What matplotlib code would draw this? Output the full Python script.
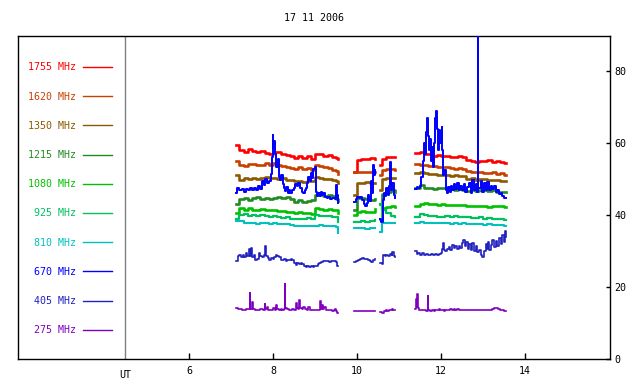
import numpy as np
import matplotlib
matplotlib.use("Agg")
import matplotlib.pyplot as plt

nan = np.nan

title = "17 11 2006"
freq_labels = ["1755 MHz", "1620 MHz", "1350 MHz", "1215 MHz", "1080 MHz",
               "925 MHz", "810 MHz", "670 MHz", "405 MHz", "275 MHz"]
colors = ["#ff0000", "#c84000", "#8c5a00", "#228b22", "#00c000",
          "#00c060", "#00c0c0", "#0000ff", "#2020c0", "#8000c0"]
x_ticks = [6, 8, 10, 12, 14]
y_ticks = [0, 20, 40, 60, 80]
ut_position = 4.48

# common time base (hours UT) for the smoother channels, gaps as nan
t_main = [7.12, 7.2, 7.3, 7.4, 7.5, 7.6, 7.7, 7.8, 7.9, 8.0, 8.1, 8.2, 8.3, 8.4, 8.5,
          8.6, 8.7, 8.8, 8.9, 9.0, 9.1, 9.2, 9.3, 9.4, 9.5, 9.55, nan,
          9.93, 10.0, 10.1, 10.2, 10.3, 10.43, nan,
          10.55, 10.6, 10.7, 10.8, 10.9, nan,
          11.38, 11.5, 11.6, 11.7, 11.8, 11.9, 12.0, 12.1, 12.2, 12.3, 12.4, 12.5,
          12.6, 12.7, 12.8, 12.9, 13.0, 13.1, 13.2, 13.3, 13.4, 13.5, 13.55]

f1755 = [59.5, 58.0, 57.6, 58.2, 57.8, 57.5, 57.9, 57.2, 57.0, 57.4, 57.6, 57.0, 56.6, 56.3, 55.8,
         56.4, 55.9, 56.3, 55.6, 57.0, 56.8, 56.5, 56.6, 56.2, 55.8, 55.6, nan,
         52.0, 55.4, 55.6, 55.5, 55.7, 55.6, nan,
         54.0, 55.5, 56.0, 56.2, 56.0, nan,
         57.2, 57.5, 57.0, 56.8, 56.5, 56.7, 56.3, 56.5, 56.0, 56.2, 56.4, 56.1,
         55.2, 55.0, 54.8, 55.1, 54.9, 55.2, 54.8, 55.0, 54.7, 54.3, 54.3]
f1620 = [55.0, 53.9, 53.6, 54.1, 54.2, 53.8, 54.0, 54.3, 53.9, 54.3, 54.0, 53.6, 53.3, 53.0, 52.7,
         53.2, 52.8, 53.1, 52.6, 53.9, 53.5, 53.3, 53.0, 52.6, 52.2, 51.5, nan,
         51.8, 51.8, 51.9, 51.8, 51.8, 51.8, nan,
         51.0, 52.5, 52.7, 52.8, 52.6, nan,
         54.2, 54.0, 53.8, 53.6, 53.5, 53.4, 53.2, 53.3, 53.0, 52.9, 53.0, 52.9,
         52.1, 52.0, 51.8, 52.0, 51.7, 51.6, 51.8, 51.5, 51.6, 51.1, 51.1]
f1350 = [51.0, 49.8, 50.3, 50.0, 50.4, 50.1, 50.3, 50.6, 50.2, 50.4, 50.0, 50.2, 49.8, 49.6, 49.3,
         49.5, 49.2, 49.5, 49.3, 50.6, 50.3, 50.1, 49.9, 49.7, 49.5, 48.9, nan,
         45.5, 49.0, 49.0, 49.1, 49.0, 49.0, nan,
         47.0, 50.0, 50.3, 50.2, 50.2, nan,
         51.6, 51.9, 51.6, 51.5, 51.3, 51.2, 51.1, 51.0, 50.9, 51.0, 50.8, 50.8,
         50.0, 50.2, 49.8, 49.9, 50.0, 49.7, 49.6, 49.6, 49.5, 49.5, 49.5]
f1215 = [43.0, 44.3, 44.6, 44.2, 44.6, 44.9, 44.5, 44.7, 44.4, 44.8, 45.0, 44.6, 44.9, 44.3, 43.7,
         44.1, 43.6, 43.9, 44.2, 45.6, 45.8, 45.3, 45.5, 45.2, 44.4, 44.0, nan,
         41.5, 44.6, 44.8, 44.4, 44.2, 44.3, nan,
         43.0, 45.8, 46.5, 46.8, 46.3, nan,
         47.4, 48.2, 47.6, 47.6, 47.3, 47.5, 47.4, 47.6, 47.1, 47.0, 47.2, 46.9,
         46.7, 46.9, 46.6, 46.8, 46.9, 46.7, 46.8, 46.5, 46.3, 46.4, 46.4]
f1080 = [40.5, 41.8, 41.5, 41.9, 41.5, 41.4, 41.7, 41.3, 41.5, 41.4, 41.2, 41.0, 40.9, 40.7, 40.6,
         40.8, 40.5, 40.6, 40.4, 41.8, 41.6, 41.5, 41.6, 41.4, 41.3, 40.5, nan,
         40.0, 40.9, 41.0, 40.8, 40.9, 41.6, nan,
         39.0, 42.0, 42.3, 42.4, 42.2, nan,
         42.6, 43.1, 43.2, 43.0, 43.1, 42.9, 43.1, 42.8, 42.7, 42.9, 42.8, 42.9,
         42.6, 42.4, 42.6, 42.5, 42.5, 42.3, 42.4, 42.6, 42.4, 42.3, 42.3]
f925 = [39.0, 40.0, 40.3, 39.8, 40.0, 39.7, 39.9, 39.6, 39.5, 39.6, 39.4, 39.2, 39.3, 38.9, 38.8,
        39.0, 38.8, 39.1, 38.9, 40.0, 39.8, 39.6, 39.7, 39.4, 39.4, 38.0, nan,
        38.0, 38.1, 38.2, 38.0, 38.2, 38.6, nan,
        43.0, 41.5, 40.5, 39.8, 39.5, nan,
        39.3, 40.2, 40.0, 39.7, 39.8, 39.5, 39.5, 39.6, 39.4, 39.6, 39.3, 39.3,
        39.5, 39.2, 39.1, 39.3, 39.0, 39.2, 38.9, 38.8, 38.9, 38.6, 38.6]
f810 = [38.4, 38.2, 37.9, 37.7, 37.8, 37.6, 37.8, 37.7, 37.6, 37.7, 37.6, 37.5, 37.4, 37.2, 36.9,
        36.8, 37.0, 36.9, 37.0, 37.0, 37.1, 36.9, 36.8, 36.8, 36.6, 35.0, nan,
        36.3, 36.4, 36.3, 36.2, 36.3, 36.4, nan,
        35.4, 37.9, 37.9, 37.8, 37.9, nan,
        37.9, 38.1, 37.9, 37.8, 37.8, 37.7, 37.7, 37.7, 37.6, 37.7, 37.6, 37.8,
        37.5, 37.4, 37.5, 37.4, 37.3, 37.4, 37.2, 37.3, 37.1, 36.9, 36.9]

t670 = [7.12, 7.15, 7.20, 7.25, 7.30, 7.35, 7.40, 7.45, 7.50, 7.55, 7.60, 7.65, 7.70, 7.74, 7.78,
        7.82, 7.86, 7.90, 7.94, 7.97, 7.99, 8.01, 8.03, 8.05, 8.08, 8.11, 8.14, 8.17, 8.20, 8.23,
        8.26, 8.29, 8.32, 8.35, 8.38, 8.41, 8.45, 8.49, 8.52, 8.56, 8.60, 8.64, 8.68, 8.71, 8.75,
        8.78, 8.81, 8.84, 8.87, 8.90, 8.93, 8.96, 8.99, 9.02, 9.05, 9.08, 9.11, 9.14, 9.17, 9.20,
        9.24, 9.28, 9.32, 9.36, 9.40, 9.44, 9.48, 9.51, 9.53, 9.55, nan,
        9.93, 9.97, 10.00, 10.04, 10.08, 10.12, 10.16, 10.20, 10.23, 10.26, 10.29, 10.32, 10.35,
        10.37, 10.39, 10.41, 10.43, nan,
        10.55, 10.58, 10.61, 10.64, 10.67, 10.70, 10.73, 10.76, 10.79, 10.81, 10.84, 10.87, 10.90, nan,
        11.38, 11.42, 11.46, 11.50, 11.53, 11.56, 11.59, 11.62, 11.65, 11.67, 11.69, 11.72, 11.74,
        11.77, 11.79, 11.81, 11.84, 11.86, 11.88, 11.90, 11.92, 11.95, 11.98, 12.01, 12.03, 12.05,
        12.08, 12.11, 12.14, 12.17, 12.20, 12.23, 12.26, 12.30, 12.34, 12.38, 12.42, 12.46, 12.50,
        12.54, 12.58, 12.62, 12.66, 12.70, 12.74, 12.78, 12.82, 12.86, 12.88, 12.885, 12.94, 12.98,
        13.02, 13.06, 13.10, 13.14, 13.18, 13.22, 13.26, 13.30, 13.34, 13.38, 13.42, 13.46, 13.50, 13.55]
f670 = [46.0, 47.5, 46.8, 47.3, 46.5, 47.2, 46.9, 47.6, 46.8, 47.4, 47.0, 48.0, 47.3, 49.5, 48.2,
        50.0, 48.8, 49.5, 51.5, 56.0, 62.2, 58.5, 60.5, 57.0, 53.4, 55.5, 50.5, 49.7, 51.0, 48.5,
        47.5, 46.6, 47.8, 46.2, 46.8, 46.0, 47.0, 47.6, 48.6, 48.0, 48.8, 47.5, 46.5, 46.0, 46.8,
        47.5, 49.0, 50.5, 49.5, 51.6, 50.2, 52.8, 53.2, 46.5, 45.2, 46.0, 45.3, 46.5, 45.5, 46.0,
        45.1, 44.8, 45.0, 44.5, 44.8, 44.6, 44.3, 48.3, 45.5, 43.3, nan,
        43.7, 44.5, 45.0, 44.6, 44.9, 44.2, 43.0, 42.6, 43.4, 45.5, 44.0, 49.5, 46.0,
        52.0, 54.0, 51.0, 52.5, nan,
        39.0, 38.0, 44.2, 46.0, 45.2, 47.5, 45.5, 48.0, 54.8, 47.0, 49.0, 45.5, 44.7, nan,
        47.3, 47.8, 47.5, 48.0, 50.6, 55.0, 60.0, 57.0, 63.0, 66.8, 62.0, 58.0, 61.0,
        55.0, 59.0, 53.4, 60.0, 67.0, 69.0, 64.0, 58.0, 63.5, 60.0, 64.5, 58.0, 51.0,
        52.5, 47.0, 46.2, 47.8, 46.5, 48.0, 47.0, 48.5, 47.2, 48.9, 46.8, 48.0, 47.0,
        48.5, 46.5, 47.8, 49.0, 46.2, 49.7, 47.0, 48.5, 46.5, 95.0, 47.5, 49.5, 46.4,
        48.8, 47.0, 49.2, 46.8, 48.0, 47.2, 48.0, 46.5, 47.0, 45.8, 46.2, 45.2, 44.8, 44.6]

t405 = [7.12, 7.16, 7.20, 7.24, 7.28, 7.32, 7.36, 7.38, 7.42, 7.44, 7.48, 7.50, 7.54, 7.58, 7.62,
        7.66, 7.70, 7.74, 7.78, 7.81, 7.83, 7.87, 7.91, 7.95, 7.99, 8.03, 8.06, 8.10, 8.14, 8.18,
        8.22, 8.26, 8.30, 8.34, 8.38, 8.42, 8.46, 8.50, 8.54, 8.58, 8.62, 8.66, 8.70, 8.74, 8.78,
        8.82, 8.86, 8.90, 8.94, 8.98, 9.02, 9.06, 9.10, 9.14, 9.18, 9.22, 9.26, 9.30, 9.34, 9.38,
        9.42, 9.46, 9.50, 9.53, 9.55, nan,
        9.93, 9.98, 10.03, 10.08, 10.12, 10.16, 10.20, 10.25, 10.30, 10.34, 10.38, 10.43, nan,
        10.55, 10.59, 10.62, 10.66, 10.70, 10.74, 10.78, 10.82, 10.84, 10.87, 10.90, nan,
        11.38, 11.42, 11.46, 11.50, 11.55, 11.60, 11.65, 11.70, 11.75, 11.80, 11.85, 11.90, 11.95,
        12.00, 12.02, 12.04, 12.06, 12.10, 12.14, 12.18, 12.22, 12.26, 12.30, 12.34, 12.38, 12.42,
        12.46, 12.50, 12.53, 12.56, 12.60, 12.63, 12.66, 12.70, 12.74, 12.78, 12.82, 12.86, 12.90,
        12.94, 12.98, 13.02, 13.06, 13.09, 13.12, 13.15, 13.18, 13.22, 13.26, 13.30, 13.34, 13.38,
        13.42, 13.46, 13.49, 13.52, 13.55]
f405 = [27.3, 28.5, 28.9, 28.3, 28.8, 28.4, 29.5, 28.5, 30.5, 28.6, 30.8, 28.4, 28.8, 27.6, 27.9,
        29.4, 28.6, 28.3, 28.8, 31.4, 28.5, 28.0, 27.6, 28.0, 27.8, 28.2, 29.0, 28.5, 28.2, 27.6,
        27.4, 27.8, 27.2, 27.4, 27.6, 27.8, 27.4, 26.6, 26.1, 26.7, 26.5, 26.7, 26.3, 25.9, 25.6,
        25.8, 25.6, 25.7, 25.6, 25.8, 25.9, 26.3, 26.6, 26.8, 27.1, 27.3, 27.1, 27.2, 27.0, 27.2,
        27.1, 27.2, 27.0, 25.8, 25.8, nan,
        27.0, 27.3, 27.6, 27.8, 28.1, 27.8, 27.7, 27.5, 27.3, 27.0, 27.4, 27.7, nan,
        26.6, 26.4, 29.0, 28.7, 29.0, 28.6, 29.1, 28.8, 29.8, 28.6, 28.4, nan,
        29.9, 29.2, 29.4, 29.0, 29.3, 29.0, 29.2, 28.9, 29.1, 29.0, 29.2, 28.9, 29.1,
        29.5, 30.5, 32.2, 30.3, 30.0, 30.5, 31.2, 30.4, 31.7, 30.8, 31.3, 30.5, 31.5,
        30.7, 32.2, 33.0, 31.5, 32.5, 30.5, 31.8, 30.2, 32.3, 30.0, 31.5, 29.6, 30.2,
        28.8, 28.4, 30.0, 32.0, 30.5, 32.4, 30.4, 31.6, 33.0, 31.2, 32.8, 31.5, 33.5,
        32.0, 34.5, 32.5, 35.5, 34.0]

t275 = [7.12, 7.16, 7.20, 7.25, 7.30, 7.35, 7.40, 7.44, 7.45, 7.46, 7.50, 7.52, 7.56, 7.60, 7.65,
        7.70, 7.75, 7.80, 7.82, 7.85, 7.88, 7.92, 7.96, 8.00, 8.04, 8.08, 8.10, 8.14, 8.18, 8.22,
        8.26, 8.28, 8.29, 8.33, 8.37, 8.41, 8.45, 8.50, 8.54, 8.56, 8.60, 8.62, 8.64, 8.68, 8.72,
        8.76, 8.80, 8.84, 8.88, 8.92, 8.96, 9.00, 9.04, 9.08, 9.12, 9.14, 9.17, 9.19, 9.22, 9.25,
        9.30, 9.35, 9.40, 9.45, 9.48, 9.50, 9.53, 9.55, nan,
        9.93, 10.0, 10.05, 10.1, 10.15, 10.2, 10.25, 10.3, 10.35, 10.40, 10.43, nan,
        10.55, 10.6, 10.63, 10.68, 10.72, 10.76, 10.80, 10.83, 10.86, 10.9, nan,
        11.38, 11.40, 11.42, 11.43, 11.45, 11.48, 11.52, 11.56, 11.60, 11.64, 11.68, 11.69, 11.70,
        11.74, 11.78, 11.82, 11.86, 11.90, 11.94, 11.98, 12.02, 12.06, 12.10, 12.14, 12.18, 12.22,
        12.26, 12.30, 12.34, 12.38, 12.42, 12.46, 12.50, 12.55, 12.60, 12.65, 12.70, 12.75, 12.80,
        12.85, 12.90, 12.95, 13.00, 13.05, 13.10, 13.15, 13.20, 13.25, 13.30, 13.35, 13.40, 13.45,
        13.50, 13.55]
f275 = [14.1, 13.8, 13.9, 13.7, 13.6, 13.9, 13.8, 15.0, 18.2, 14.0, 15.9, 14.0, 13.6, 13.7, 13.5,
        13.8, 13.6, 15.4, 13.9, 14.5, 13.6, 13.7, 13.5, 14.2, 13.7, 15.0, 13.8, 13.6, 13.8, 13.7,
        14.0, 20.7, 14.2, 13.9, 13.7, 13.6, 13.8, 13.6, 15.5, 14.3, 14.0, 16.4, 14.2, 14.0, 14.5,
        13.8, 13.6, 14.4, 13.6, 13.5, 13.6, 13.5, 13.6, 13.7, 16.1, 14.0, 15.0, 13.8, 14.5, 13.6,
        13.5, 13.6, 13.4, 13.5, 14.0, 13.4, 12.7, 12.7, nan,
        13.3, 13.4, 13.2, 13.3, 13.3, 13.2, 13.3, 13.3, 13.2, 13.4, 13.3, nan,
        13.0, 12.9, 13.4, 13.5, 13.4, 13.6, 13.5, 13.9, 13.7, 13.5, nan,
        14.0, 16.7, 14.5, 18.1, 14.2, 13.6, 13.7, 13.5, 13.6, 13.4, 13.5, 17.5, 13.6,
        13.3, 13.6, 13.4, 13.7, 13.5, 13.8, 13.5, 13.6, 13.4, 13.6, 13.5, 13.7, 13.9,
        13.6, 14.0, 13.6, 13.8, 13.6, 13.7, 13.6, 13.6, 13.7, 13.6, 13.6, 13.5, 13.5,
        13.6, 13.6, 13.6, 13.6, 13.6, 13.6, 13.7, 14.0, 14.1, 14.3, 14.0, 13.7, 13.6,
        13.4, 13.4]

series = [(t_main, f1755, 1.9), (t_main, f1620, 1.9), (t_main, f1350, 1.9),
          (t_main, f1215, 1.9), (t_main, f1080, 1.9), (t_main, f925, 1.6),
          (t_main, f810, 1.5), (t670, f670, 1.4), (t405, f405, 1.2), (t275, f275, 1.2)]

plt.rcParams['font.family'] = ['DejaVu Sans Mono']
plt.rcParams['font.size'] = 7.2

fig = plt.figure(figsize=(6.4, 3.84), dpi=100)
ax = fig.add_axes([18 / 640, 25 / 384, 592 / 640, 323 / 384])

handles = []
for (t, v, lw), lab, c in zip(series, freq_labels, colors):
    z = 4 if lab == "670 MHz" else 2
    h, = ax.plot(t, v, color=c, lw=lw, drawstyle='steps-post', label=lab, zorder=z)
    handles.append(h)

ax.axvline(ut_position, color='#808080', lw=1.0, zorder=1)

ax.set_xlim(1.93, 16.02)
ax.set_ylim(0, 89.7)
ax.set_xticks(x_ticks)
ax.set_xticklabels([str(v) for v in x_ticks])
ax.yaxis.tick_right()
ax.set_yticks(y_ticks)
ax.tick_params(axis='x', direction='in', length=4, width=1, pad=5, top=False)
ax.tick_params(axis='y', direction='in', length=3, width=1, pad=3, left=False, right=True)
for s in ax.spines.values():
    s.set_linewidth(1.0)
ax.text(ut_position, -0.035, "UT", transform=ax.get_xaxis_transform(),
        ha='center', va='top', fontsize=7.2)

ax.set_title(title, fontsize=7.2, pad=11)

leg = ax.legend(handles=handles, loc='upper right', bbox_to_anchor=(94 / 592, 0.918),
                markerfirst=False, labelcolor='linecolor', frameon=False,
                handlelength=2.9, handletextpad=0.7, labelspacing=1.92,
                borderpad=0, borderaxespad=0, fontsize=7.2)
for lh in leg.get_lines():
    lh.set_linewidth(1.0)

fig.savefig("out.png", dpi=100)
